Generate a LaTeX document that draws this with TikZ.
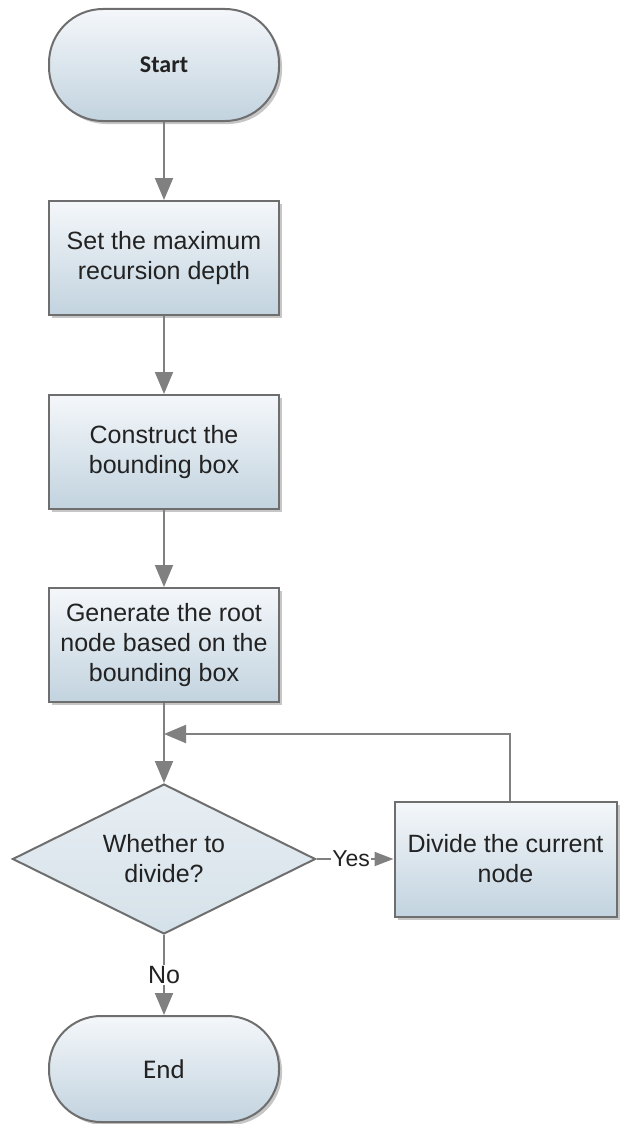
\documentclass[tikz,border=0pt]{standalone}
\usepackage{fontspec}
\setmainfont{Liberation Sans}
\newfontfamily\termfont{Carlito}
\usetikzlibrary{
  arrows.meta,
  positioning,
  shapes.geometric,
  shadows
}
\definecolor{boxtop}{RGB}{244,247,250}
\definecolor{boxbot}{RGB}{194,211,223}
\definecolor{edgegray}{RGB}{110,110,110}
\definecolor{linegray}{RGB}{128,128,128}
\definecolor{txtgray}{RGB}{34,34,34}
\definecolor{decfill}{RGB}{213,225,233}

\begin{document}
\begin{tikzpicture}[
  x=1pt,
  y=-1pt,
  font=\fontsize{25}{30}\selectfont,
  text=txtgray,
  term/.style={
    draw=edgegray,
    line width=2pt,
    rounded corners=54pt,
    top color=boxtop,
    bottom color=boxbot,
    minimum width=230pt,
    minimum height=112pt,
    drop shadow={shadow xshift=3pt,shadow yshift=-3pt,opacity=0.45}
  },
  proc/.style={
    draw=edgegray,
    line width=2pt,
    align=center,
    top color=boxtop,
    bottom color=boxbot,
    minimum width=230pt,
    minimum height=114pt,
    drop shadow={shadow xshift=3pt,shadow yshift=-3pt,opacity=0.45}
  },
  decide/.style={
    draw=edgegray,
    line width=2pt,
    diamond,
    aspect=2,
    inner sep=0pt,
    align=center,
    top color=boxtop!60!decfill,
    bottom color=decfill,
    minimum width=303pt,
    minimum height=150pt
  },
  arrow/.style={
    draw=linegray,
    line width=2pt,
    -{Triangle[length=22pt,width=18pt]}
  },
  label/.style={
    fill=white,
    inner sep=1pt,
    text=txtgray
  }
]

\useasboundingbox (0,0) rectangle (620,1124);

\node[term,font=\termfont\bfseries\fontsize{24}{28}\selectfont] (start) at (164,65) {Start};
\node[proc,below=78pt of start] (setdepth) {Set the maximum\\recursion depth};
\node[proc,below=78pt of setdepth] (bbox) {Construct the\\bounding box};
\node[proc,below=77pt of bbox] (root) {Generate the root\\node based on the\\bounding box};
\node[decide,below=80pt of root] (divq) {Whether to\\divide?};
\node[proc,right=77pt of divq,minimum width=222pt,minimum height=115pt] (divide)
  {Divide the current\\node};
\node[term,below=80pt of divq,minimum height=106pt,rounded corners=52pt,font=\termfont\fontsize{27}{32}\selectfont] (end) {End};

\coordinate[below=31pt of root] (join);

\draw[arrow] (start) -- (setdepth);
\draw[arrow] (setdepth) -- (bbox);
\draw[arrow] (bbox) -- (root);
\draw[arrow] (root) -- (divq);
\draw[arrow,-{Triangle[length=19pt,width=14pt]}] (divq)
  -- node[label,pos=0.45,font=\fontsize{23}{27}\selectfont]{Yes} (divide);
\draw[arrow] ([xshift=4pt]divide.north) |- (join);
\draw[arrow] (divq)
  -- node[label,pos=0.5]{No} (end);

\end{tikzpicture}
\end{document}
